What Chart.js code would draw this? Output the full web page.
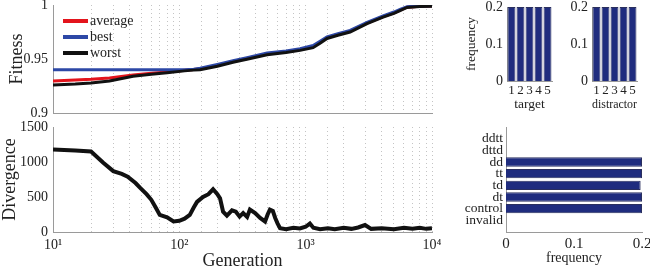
<!DOCTYPE html>
<html>
<head>
<meta charset="utf-8">
<script src="https://cdn.jsdelivr.net/npm/chart.js@4.4.0/dist/chart.umd.min.js"></script>
<style>
  body { margin: 0; background: #fff; width: 650px; height: 272px; overflow: hidden; position: relative; }
  .panel { position: absolute; }
</style>
</head>
<body>
<div class="panel" style="left:0;top:0;width:445px;height:118px"><canvas id="fitChart"></canvas></div>
<div class="panel" style="left:0;top:115px;width:445px;height:157px"><canvas id="divChart"></canvas></div>
<div class="panel" style="left:455px;top:0;width:100px;height:115px"><canvas id="targetChart"></canvas></div>
<div class="panel" style="left:540px;top:0;width:100px;height:115px"><canvas id="distChart"></canvas></div>
<div class="panel" style="left:455px;top:115px;width:195px;height:157px"><canvas id="seqChart"></canvas></div>
<script>
// fitness vs generation (top left)
const fitGens = [10, 15, 20, 28, 43, 60, 80, 110, 130, 146, 200, 266, 350, 495, 700, 903, 1145, 1300, 1476, 1800, 2249, 3062, 4103, 5000, 5587, 6350, 8000, 10000];
const bestFit = [0.9400, 0.9400, 0.9400, 0.9400, 0.9400, 0.9400, 0.9400, 0.9401, 0.9405, 0.9415, 0.9450, 0.9485, 0.9515, 0.9555, 0.9575, 0.9595, 0.9625, 0.9665, 0.9705, 0.9735, 0.9765, 0.9840, 0.9900, 0.9935, 0.9960, 0.9985, 0.9990, 0.9992];
const avgFit = [0.9297, 0.9305, 0.9312, 0.9325, 0.9352, 0.9368, 0.9380, 0.9395, 0.9402, 0.9408, 0.9440, 0.9478, 0.9508, 0.9548, 0.9568, 0.9588, 0.9615, 0.9655, 0.9697, 0.9728, 0.9758, 0.9833, 0.9893, 0.9928, 0.9953, 0.9980, 0.9988, 0.9990];
const worstFit = [0.9260, 0.9268, 0.9278, 0.9296, 0.9340, 0.9358, 0.9373, 0.9390, 0.9397, 0.9400, 0.9433, 0.9470, 0.9500, 0.9540, 0.9560, 0.9580, 0.9605, 0.9645, 0.9690, 0.9720, 0.9750, 0.9828, 0.9888, 0.9923, 0.9948, 0.9977, 0.9985, 0.9988];

// divergence vs generation (bottom left)
const divGens = [10, 15, 20, 25, 30, 35, 39, 45, 49, 55, 60, 65, 70, 80, 90, 100, 110, 121, 130, 138, 154, 170, 185, 200, 210, 222, 238, 261, 280, 300, 320, 344, 362, 398, 436, 477, 500, 521, 550, 574, 600, 627, 700, 800, 900, 1000, 1080, 1150, 1300, 1500, 1700, 2000, 2300, 2600, 2950, 3300, 4000, 5000, 6000, 7000, 8000, 9000, 10000];
const divergence = [1180, 1165, 1150, 990, 870, 830, 790, 700, 630, 540, 460, 350, 245, 210, 150, 160, 190, 245, 350, 430, 500, 540, 610, 540, 480, 290, 235, 310, 290, 220, 270, 215, 320, 270, 200, 150, 250, 320, 300, 200, 120, 55, 40, 60, 50, 75, 120, 60, 40, 55, 40, 60, 45, 65, 100, 45, 55, 40, 60, 45, 60, 45, 55];

// stimulus frequencies (top right)
const positions = ['1', '2', '3', '4', '5'];
const targetFreq = [0.2, 0.2, 0.2, 0.2, 0.2];
const distractorFreq = [0.2, 0.2, 0.2, 0.2, 0.2];

// sequence type frequencies (bottom right)
const seqTypes = ['ddtt', 'dttd', 'dd', 'tt', 'td', 'dt', 'control', 'invalid'];
const seqFreq = [0, 0, 0.2, 0.2, 0.198, 0.2, 0.2, 0];

const SERIF = '"Liberation Serif", "Times New Roman", serif';
const AXIS = '#9a9a9a';
const GRID = '#c4c4c4';
const NAVY = '#1f2c7e';
const INK = '#222';
const SUP = { 10: '10\u00b9', 100: '10\u00b2', 1000: '10\u00b3', 10000: '10\u2074' };

Chart.defaults.font.family = SERIF;
Chart.defaults.color = INK;
Chart.defaults.animation = false;
Chart.defaults.plugins.tooltip.enabled = false;

// force axis sizes so all panels line up like the original figure
function fix(w, h) {
    return function (scale) {
        if (w != null) scale.width = w;
        if (h != null) scale.height = h;
        scale.paddingLeft = scale.paddingRight = scale.paddingTop = scale.paddingBottom = 0;
    };
}

function pts(xs, ys) {
    return xs.map((x, i) => ({ x: x, y: ys[i] }));
}

// legend drawn inside the plot area, top left
const insideLegend = {
    id: 'insideLegend',
    afterDraw(chart) {
        const { ctx, chartArea } = chart;
        ctx.save();
        ctx.font = '14px ' + SERIF;
        ctx.textBaseline = 'middle';
        chart.data.datasets.forEach((ds, i) => {
            const y = chartArea.top + 16 + i * 16;
            ctx.strokeStyle = ds.borderColor;
            ctx.lineWidth = 4;
            ctx.beginPath();
            ctx.moveTo(chartArea.left + 10, y);
            ctx.lineTo(chartArea.left + 35, y);
            ctx.stroke();
            ctx.fillStyle = INK;
            ctx.fillText(ds.label, chartArea.left + 37, y);
        });
        ctx.restore();
    }
};

const noGrid = { display: false, drawTicks: false };

function logAxis(showLabels) {
    return {
        type: 'logarithmic',
        min: 10,
        max: 10000,
        grid: { color: GRID, drawTicks: false },
        border: { color: AXIS, dash: [1, 3] },
        ticks: {
            display: showLabels,
            autoSkip: false,
            maxRotation: 0,
            padding: 5,
            font: { size: 14 },
            callback: v => SUP[Math.round(v)] || ''
        }
    };
}

new Chart(document.getElementById('fitChart'), {
    type: 'line',
    data: {
        datasets: [
            { label: 'average', data: pts(fitGens, avgFit), borderColor: '#e3141c', borderWidth: 3, pointRadius: 0, order: 3 },
            { label: 'best', data: pts(fitGens, bestFit), borderColor: '#2d48a6', borderWidth: 3, pointRadius: 0, order: 2 },
            { label: 'worst', data: pts(fitGens, worstFit), borderColor: '#111', borderWidth: 3, pointRadius: 0, order: 1 }
        ]
    },
    options: {
        responsive: true,
        maintainAspectRatio: false,
        layout: { padding: { top: 5, right: 13, left: 0, bottom: 0 } },
        plugins: { legend: { display: false } },
        scales: {
            x: Object.assign(logAxis(false), { afterFit: fix(null, 5) }),
            y: {
                min: 0.9,
                max: 1,
                grid: noGrid,
                border: { color: AXIS },
                ticks: { stepSize: 0.05, padding: 5, font: { size: 14 }, callback: v => String(+v.toFixed(2)) },
                title: { display: true, text: 'Fitness', font: { size: 18, lineHeight: 1 }, padding: { top: 8 } },
                afterFit: fix(53, null)
            }
        }
    },
    plugins: [insideLegend]
});

new Chart(document.getElementById('divChart'), {
    type: 'line',
    data: {
        datasets: [
            { label: 'divergence', data: pts(divGens, divergence), borderColor: '#111', borderWidth: 4, pointRadius: 0 }
        ]
    },
    options: {
        responsive: true,
        maintainAspectRatio: false,
        layout: { padding: { top: 12, right: 13, left: 0, bottom: 0 } },
        plugins: { legend: { display: false } },
        scales: {
            x: Object.assign(logAxis(true), {
                title: { display: true, text: 'Generation', font: { size: 18 }, padding: { bottom: 0 } },
                afterFit: fix(null, 40)
            }),
            y: {
                min: 0,
                max: 1500,
                grid: noGrid,
                border: { color: AXIS },
                ticks: { stepSize: 500, padding: 5, font: { size: 14 }, callback: v => String(v) },
                title: { display: true, text: 'Divergence', font: { size: 18, lineHeight: 1 }, padding: { top: 1 } },
                afterFit: fix(53, null)
            }
        }
    }
});

function freqBars(id, values, xTitle, yTitle) {
    new Chart(document.getElementById(id), {
        type: 'bar',
        data: {
            labels: positions,
            datasets: [{ data: values, backgroundColor: NAVY, borderColor: '#2a2f5e', borderWidth: 1, barPercentage: 0.88, categoryPercentage: 1 }]
        },
        options: {
            responsive: true,
            maintainAspectRatio: false,
            layout: { padding: { top: 7, right: 3, left: 0, bottom: 0 } },
            plugins: { legend: { display: false } },
            scales: {
                x: {
                    grid: noGrid,
                    border: { color: AXIS },
                    ticks: { padding: 2, font: { size: 13 }, maxRotation: 0, autoSkip: false },
                    title: { display: true, text: xTitle, font: { size: 13.5 }, padding: { top: 0, bottom: 2 } },
                    afterFit: fix(null, 34)
                },
                y: {
                    min: 0,
                    max: 0.2,
                    grid: noGrid,
                    border: { color: AXIS },
                    ticks: { stepSize: 0.1, padding: 4, font: { size: 14 }, callback: v => v === 0 ? '0' : v.toFixed(1) },
                    title: { display: !!yTitle, text: yTitle || '', font: { size: 13.5 }, padding: { top: 8 } },
                    afterFit: fix(52, null)
                }
            }
        }
    });
}

freqBars('targetChart', targetFreq, 'target', 'frequency');
freqBars('distChart', distractorFreq, 'distractor', null);

new Chart(document.getElementById('seqChart'), {
    type: 'bar',
    data: {
        labels: [''].concat(seqTypes, ['']),
        datasets: [{
            data: [null].concat(seqFreq, [null]),
            backgroundColor: NAVY, borderColor: '#2a2f5e', borderWidth: 1,
            barPercentage: 0.8, categoryPercentage: 1
        }]
    },
    options: {
        indexAxis: 'y',
        responsive: true,
        maintainAspectRatio: false,
        layout: { padding: { top: 12, right: 8, left: 0, bottom: 0 } },
        plugins: { legend: { display: false } },
        scales: {
            x: {
                min: 0,
                max: 0.2,
                grid: noGrid,
                border: { color: AXIS },
                ticks: { stepSize: 0.1, padding: 3, font: { size: 15 }, maxRotation: 0, callback: v => v === 0 ? '0' : v.toFixed(1) },
                title: { display: true, text: 'frequency', font: { size: 14 }, padding: { top: 0, bottom: 5 } },
                afterFit: fix(null, 40)
            },
            y: {
                offset: false,
                grid: noGrid,
                border: { color: AXIS },
                ticks: { padding: 3, font: { size: 13.5 }, autoSkip: false },
                afterFit: fix(51, null)
            }
        }
    }
});
</script>
</body>
</html>
